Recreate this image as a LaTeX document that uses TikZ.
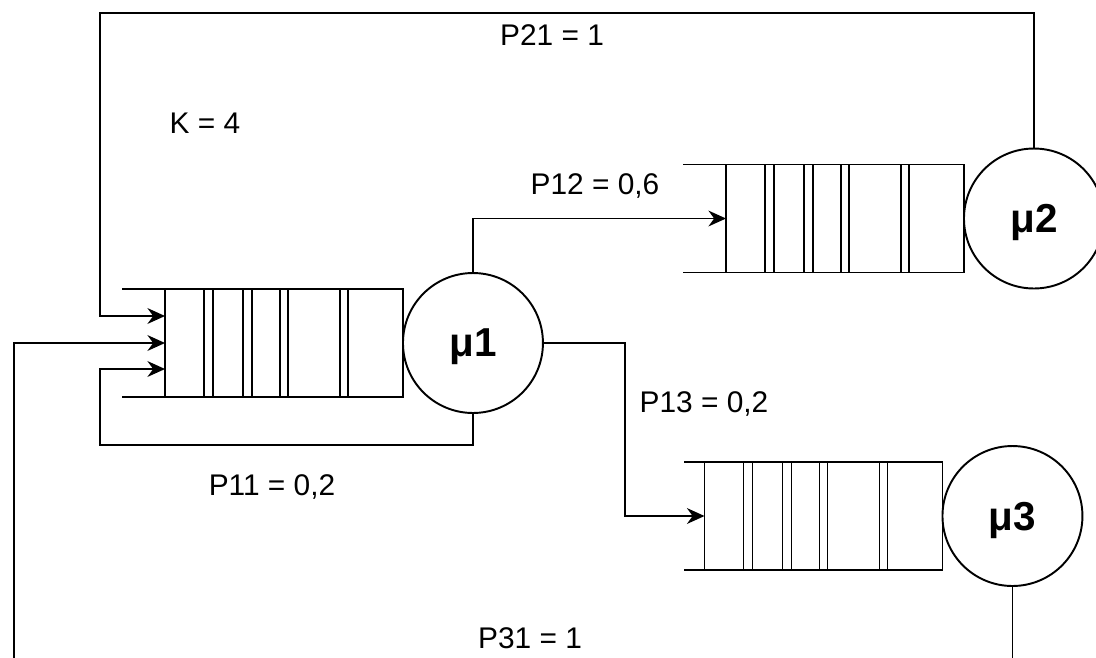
\documentclass[tikz,border=0pt]{standalone}
\usepackage{fontspec}
\setmainfont{Liberation Sans}
\usepackage{tikz}
\usetikzlibrary{arrows.meta, positioning, calc}
\tikzset{
    x=0.02cm, y=-0.02cm, % one unit is one pixel of the drawing, y grows downwards
    >={Stealth[length=10pt, width=9pt]}, % makes the arrow heads bold
    queue/.style={draw, rectangle, minimum width=4.76cm, minimum height=2.16cm, inner sep=0pt, outer sep=0pt}, % the waiting line
    server/.style={draw, circle, minimum size=2.8cm, inner sep=0pt, outer sep=0pt, text depth=0pt, font=\bfseries\fontsize{23}{26}\selectfont}, % the service station
    prob/.style={font=\fontsize{17}{20}\selectfont}, % routing probabilities
}

\begin{document}
\begin{tikzpicture}[line width=1.1pt]
            \path[use as bounding box, clip] (0,0) rectangle (1096,657);

            \node[queue] (q1) at (284,343) {};
            \node[server, right=0pt of q1] (m1) {μ1};
            \node[queue] (q2) at (845,218.5) {};
            \node[server, right=0pt of q2] (m2) {μ2};
            \node[queue] (q3) at (823.5,516) {};
            \node[server, right=0pt of q3] (m3) {μ3};

            % cells of the queues
            \foreach \q in {q1,q2,q3} {
                \foreach \d in {39,48,78,87,115,123,175,183}
                    \draw ($(\q.north west)+(\d,0)$) -- ($(\q.south west)+(\d,0)$);
            }
            % open ends
            \draw (q1.north west) -- ++(-43,0) (q1.south west) -- ++(-43,0);
            \draw (q2.north west) -- ++(-43,0) (q2.south west) -- ++(-43,0);
            \draw (q3.north west) -- ++(-21,0) (q3.south west) -- ++(-21,0);

            \node[prob] (p21) at (552,35) {P21 = 1};
            \node[prob] (k) at (205,123) {K = 4};
            \node[prob] (p12) at (595,186) {P12 = 0,6};
            \node[prob] (p13) at (704,404) {P13 = 0,2};
            \node[prob] (p11) at (272,487) {P11 = 0,2};
            \node[prob] (p31) at (530,638) {P31 = 1};

            \coordinate (in1) at ($(q1.west)+(0,-27)$);
            \coordinate (in2) at (q1.west);
            \coordinate (in3) at ($(q1.west)+(0,26)$);
            \coordinate (top) at (100,13);
            \coordinate (loop) at (100,445);
            \coordinate (bottom) at (14,700);

            \draw[->] (m2.north) |- (top) |- (in1);
            \draw[->] (m1.south) |- (loop) |- (in3);
            \draw[->] (m3.south) |- (bottom) |- (in2);
            \draw[->] (m1.north) |- (q2.west);
            \draw[->] (m1.east) -- ++(82,0) |- (q3.west);
        \end{tikzpicture}
\end{document}
